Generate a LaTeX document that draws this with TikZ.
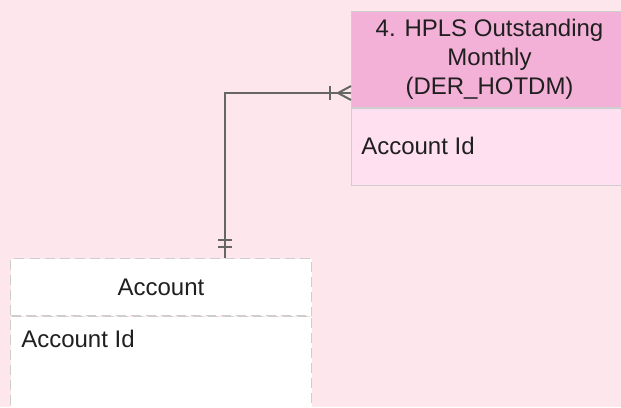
\documentclass[tikz,border=0pt]{standalone}
\usepackage{fontspec}
\setmainfont{Liberation Sans}
\usetikzlibrary{positioning,calc}
\definecolor{bgpink}{RGB}{253,230,236}
\definecolor{headpink}{RGB}{244,177,215}
\definecolor{bodypink}{RGB}{254,224,240}
\definecolor{boxline}{RGB}{206,206,206}
\definecolor{relline}{RGB}{102,102,102}
\tikzset{
	entity/.style={draw=boxline, line width=0.75pt, anchor=north west, inner sep=0pt,
		align=center, text=black!88, font=\fontsize{18}{21.75}\selectfont},
	attr/.style={anchor=west, inner sep=0pt, text=black!88, font=\fontsize{18}{21.75}\selectfont},
	rel/.style={draw=relline, line width=1.5pt}
}
\begin{document}
\begin{tikzpicture}[x=0.75pt, y=-0.75pt]
	\useasboundingbox (0,0) rectangle (621,407);
	\clip (0,0) rectangle (621,407);
	\fill[bgpink] (0,0) rectangle (621,407);

	% HPLS table
	\node[entity, fill=headpink, minimum width=207pt, minimum height=72pt] (hpls head) at (351,11)
		{4. HPLS Outstanding\\Monthly\\(DER\_HOTDM)};
	\node[entity, fill=bodypink, minimum width=207pt, minimum height=57.75pt] (hpls body) at (hpls head.south west) {};
	\node[attr] (hpls id) at ($(hpls head.south west)+(10,38)$) {Account Id};

	% Account table
	\node[entity, fill=white, dash pattern=on 7.5pt off 3.75pt, minimum width=225.75pt, minimum height=42.75pt] (acc head) at (10,258) {Account};
	\node[entity, fill=white, dash pattern=on 7.5pt off 3.75pt, minimum width=225.75pt, minimum height=120pt] (acc body) at (acc head.south west) {};
	\node[attr] (acc id) at ($(acc head.south west)+(11,23)$) {Account Id};

	% relation
	\coordinate (elbow) at (225,93);
	\coordinate (start) at (elbow |- acc head.north);
	\coordinate (end) at (elbow -| hpls head.west);
	\draw[rel] (start) -- (elbow) -- (end);
	\draw[rel] (end) ++(-13,0) -- ++(13,-7) (end) ++(-13,0) -- ++(13,7);
	\draw[rel] (end) ++(-21,-7) -- ++(0,14);
	\draw[rel] (start) ++(-7,-11) -- ++(14,0) (start) ++(-7,-18) -- ++(14,0);
\end{tikzpicture}
\end{document}
